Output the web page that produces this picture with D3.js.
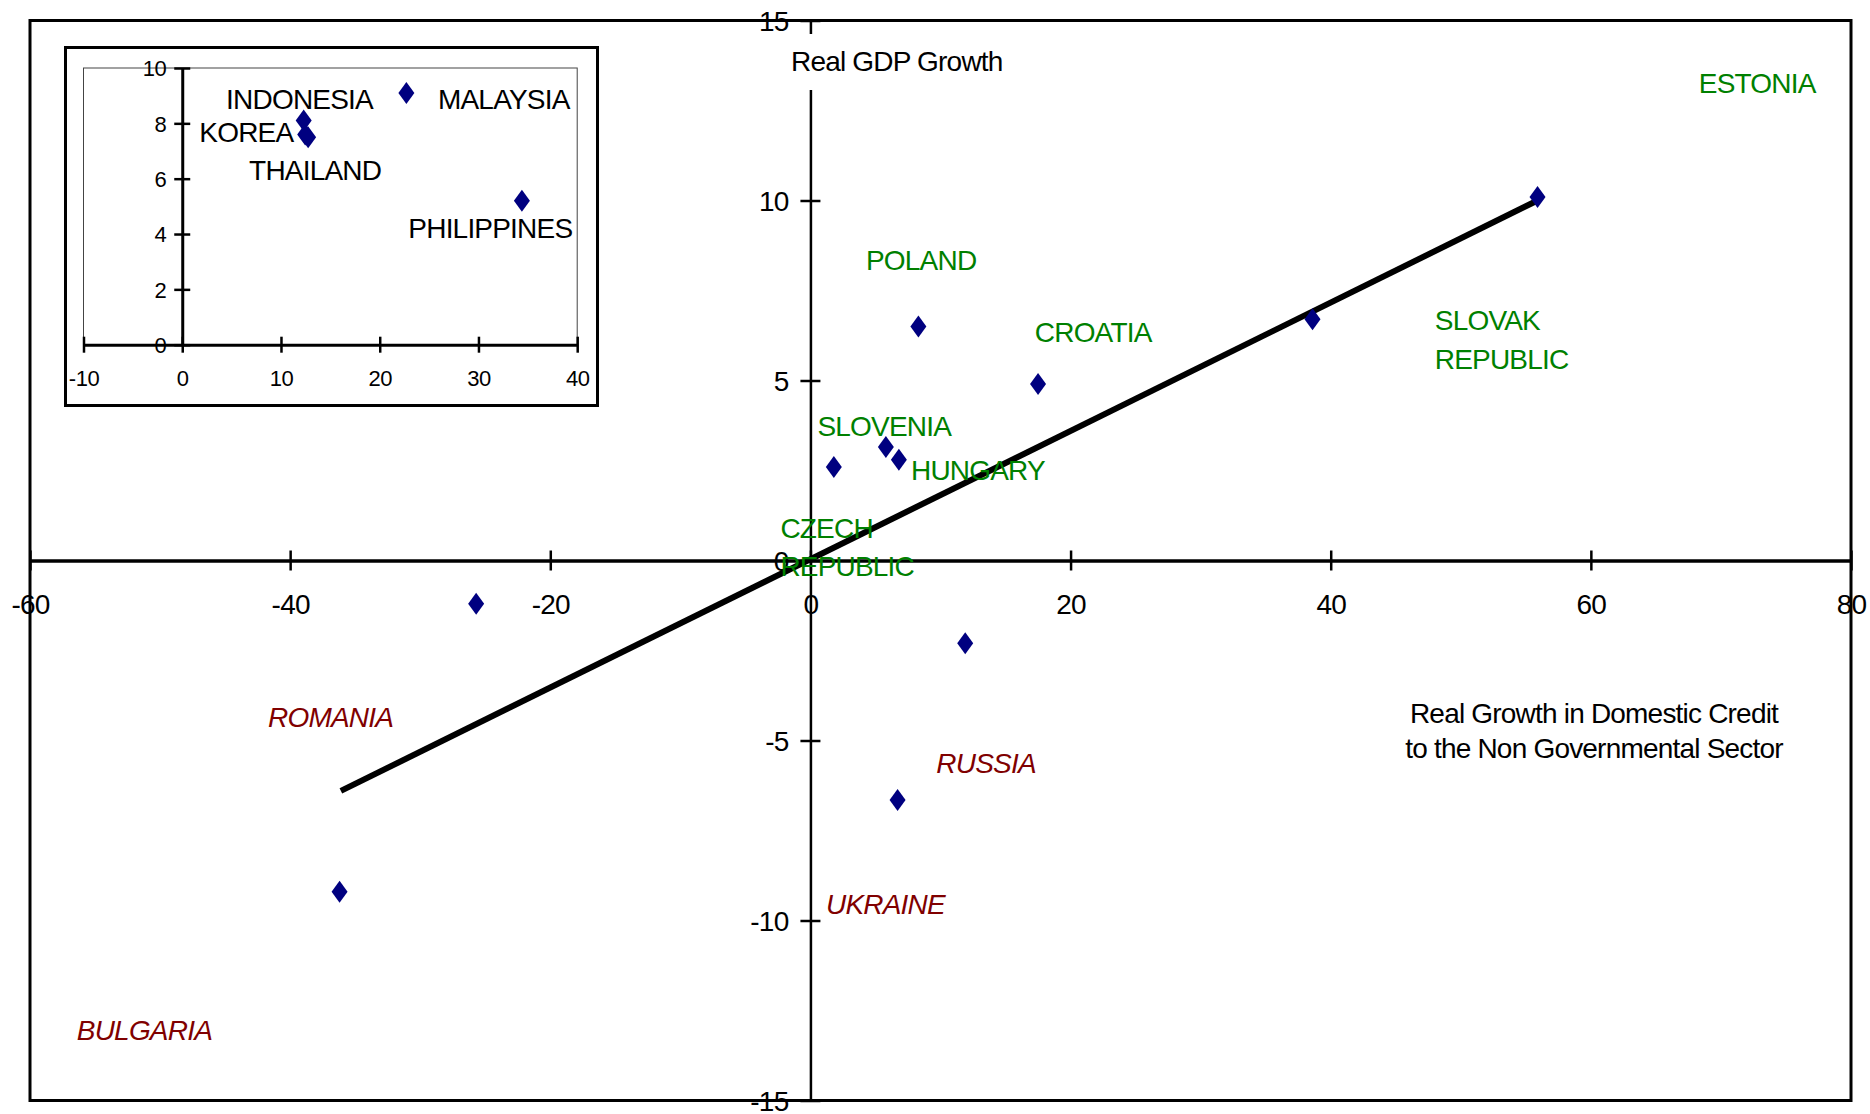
<!DOCTYPE html>
<html>
<head>
<meta charset="utf-8">
<script src="https://cdn.jsdelivr.net/npm/d3@7"></script>
<style>
  html, body { margin: 0; padding: 0; background: #fff; }
  svg { display: block; }
  text { font-family: "Liberation Sans", Arial, sans-serif; }
</style>
</head>
<body>
<svg id="chart" width="1870" height="1114"></svg>
<script>
// ---------- Main chart data ----------
const countries = ["ESTONIA", "SLOVAK REPUBLIC", "CROATIA", "POLAND", "SLOVENIA", "HUNGARY",
                   "CZECH REPUBLIC", "ROMANIA", "RUSSIA", "UKRAINE", "BULGARIA"];
const creditGrowth = [55.9, 38.6, 17.5, 8.3, 5.8, 6.8, 1.8, -25.7, 11.9, 6.7, -36.2];
const gdpGrowth    = [10.1, 6.7, 4.9, 6.5, 3.15, 2.8, 2.6, -1.2, -2.3, -6.65, -9.2];
const contracting  = [false, false, false, false, false, false, false, true, true, true, true];
// label anchor in data units (left edge, baseline of first line)
const labelX = [68.3, 48.0, 17.25, 4.27, 0.54, 7.73, -2.31, -41.7, 9.68, 1.2, -56.4];
const labelY = [12.99, 6.40, 6.08, 8.08, 3.45, 2.23, 0.63, -4.62, -5.90, -9.82, -13.31];

const trendX = [-36.1, 55.9];
const trendY = [-6.4, 10.0];

const xTicks = [-60, -40, -20, 0, 20, 40, 60, 80];
const yTicks = [-15, -10, -5, 0, 5, 10, 15];
const yAxisTitle = "Real GDP Growth";
const xAxisTitle = ["Real Growth in Domestic Credit", "to the Non Governmental Sector"];

// ---------- Inset data ----------
const asiaCountries = ["INDONESIA", "KOREA", "THAILAND", "MALAYSIA", "PHILIPPINES"];
const asiaCredit = [12.3, 12.45, 12.75, 22.7, 34.4];
const asiaGdp    = [8.1, 7.6, 7.5, 9.1, 5.2];
const asiaLabelX = [4.44, 1.73, 6.77, 25.9, 22.9];
const asiaLabelY = [8.51, 7.31, 5.95, 8.51, 3.85];
const insetXTicks = [-10, 0, 10, 20, 30, 40];
const insetYTicks = [0, 2, 4, 6, 8, 10];

// ---------- Drawing ----------
const svg = d3.select("#chart");
svg.append("rect").attr("width", 1870).attr("height", 1114).attr("fill", "#fff");

const x = d3.scaleLinear().domain([-60, 80]).range([30, 1851]);
const y = d3.scaleLinear().domain([-15, 15]).range([1100.5, 20.5]);
const fmt = d => String(d);

const navy = "#000080", green = "#008000", red = "#800000";
const diamond = (hw, hh) => `M0,${-hh}L${hw},0L0,${hh}L${-hw},0Z`;

// frame
svg.append("rect")
  .attr("x", x(-60)).attr("y", y(15))
  .attr("width", x(80) - x(-60)).attr("height", y(-15) - y(15))
  .attr("fill", "none").attr("stroke", "#000").attr("stroke-width", 3);

// x axis
const gx = svg.append("g").attr("transform", `translate(0,${y(0)})`)
  .call(d3.axisBottom(x).tickValues(xTicks).tickFormat(fmt).tickSize(10).tickSizeOuter(0).tickPadding(0));
gx.select(".domain").attr("stroke-width", 3.5).attr("stroke", "#000");
gx.selectAll(".tick line").attr("y1", -10).attr("y2", 10).attr("stroke-width", 2.5).attr("stroke", "#000");
gx.selectAll(".tick text").attr("y", 53).attr("dy", null)
  .attr("font-size", 28).attr("letter-spacing", -0.8).attr("fill", "#000")
  .attr("font-family", "Liberation Sans, Arial, sans-serif");

// y axis
const gy = svg.append("g").attr("transform", `translate(${x(0)},0)`)
  .call(d3.axisLeft(y).tickValues(yTicks).tickFormat(fmt).tickSize(10).tickSizeOuter(0).tickPadding(0));
gy.select(".domain").attr("stroke-width", 2.5).attr("stroke", "#000");
gy.selectAll(".tick line").attr("x1", -10).attr("x2", 10).attr("stroke-width", 2.5).attr("stroke", "#000");
gy.selectAll(".tick text").attr("x", -22).attr("dy", "0.36em")
  .attr("font-size", 28).attr("letter-spacing", -0.8).attr("fill", "#000")
  .attr("font-family", "Liberation Sans, Arial, sans-serif");

// y-axis title with white background
svg.append("rect").attr("x", 785).attr("y", 34).attr("width", 222).attr("height", 56).attr("fill", "#fff");
svg.append("text").attr("x", 791).attr("y", 71)
  .attr("font-size", 28).attr("letter-spacing", -0.8).text(yAxisTitle);

// x-axis title
svg.append("g").selectAll("text").data(xAxisTitle).join("text")
  .attr("x", 1594).attr("y", (d, i) => 723 + i * 35)
  .attr("text-anchor", "middle").attr("font-size", 28).attr("letter-spacing", -0.8)
  .text(d => d);

// trend line
svg.append("path")
  .attr("d", d3.line().x(d => x(d[0])).y(d => y(d[1]))(d3.zip(trendX, trendY)))
  .attr("stroke", "#000").attr("stroke-width", 6).attr("fill", "none");

// points
svg.append("g").selectAll("path").data(d3.range(countries.length)).join("path")
  .attr("transform", i => `translate(${x(creditGrowth[i])},${y(gdpGrowth[i])})`)
  .attr("d", diamond(8, 11)).attr("fill", navy);

// labels
const lab = svg.append("g").selectAll("text").data(d3.range(countries.length)).join("text")
  .attr("x", i => x(labelX[i])).attr("y", i => y(labelY[i]))
  .attr("font-size", 28).attr("letter-spacing", -0.8)
  .attr("fill", i => contracting[i] ? red : green)
  .attr("font-style", i => contracting[i] ? "italic" : "normal");
lab.each(function(i) {
  const words = countries[i].split(" ");
  const t = d3.select(this);
  words.forEach((w, k) => {
    t.append("tspan").attr("x", x(labelX[i])).attr("dy", k === 0 ? 0 : 38.5).text(w);
  });
});

// ---------- Inset ----------
const ix = d3.scaleLinear().domain([-10, 40]).range([83.5, 577.2]);
const iy = d3.scaleLinear().domain([0, 10]).range([344.7, 68]);
const inset = svg.append("g");
inset.append("rect").attr("x", 65.5).attr("y", 47.5).attr("width", 532).attr("height", 358)
  .attr("fill", "#fff").attr("stroke", "#000").attr("stroke-width", 3);
inset.append("rect").attr("x", ix(-10)).attr("y", iy(10))
  .attr("width", ix(40) - ix(-10)).attr("height", iy(0) - iy(10))
  .attr("fill", "none").attr("stroke", "#444").attr("stroke-width", 1);

const igx = inset.append("g").attr("transform", `translate(0,${iy(0)})`)
  .call(d3.axisBottom(ix).tickValues(insetXTicks).tickFormat(fmt).tickSize(8).tickSizeOuter(0).tickPadding(0));
igx.select(".domain").attr("stroke-width", 3).attr("stroke", "#000");
igx.selectAll(".tick line").attr("y1", -8).attr("y2", 8).attr("stroke-width", 2.5).attr("stroke", "#000");
igx.selectAll(".tick text").attr("y", 41).attr("dy", null)
  .attr("font-size", 22).attr("letter-spacing", -0.5).attr("fill", "#000")
  .attr("font-family", "Liberation Sans, Arial, sans-serif");

const igy = inset.append("g").attr("transform", `translate(${ix(0)},0)`)
  .call(d3.axisLeft(iy).tickValues(insetYTicks).tickFormat(fmt).tickSize(8).tickSizeOuter(0).tickPadding(0));
igy.select(".domain").attr("stroke-width", 3).attr("stroke", "#000");
igy.selectAll(".tick line").attr("x1", -8).attr("x2", 8).attr("stroke-width", 2.5).attr("stroke", "#000");
igy.selectAll(".tick text").attr("x", -16).attr("dy", "0.36em")
  .attr("font-size", 22).attr("letter-spacing", -0.5).attr("fill", "#000")
  .attr("font-family", "Liberation Sans, Arial, sans-serif");

inset.append("g").selectAll("path").data(d3.range(asiaCountries.length)).join("path")
  .attr("transform", i => `translate(${ix(asiaCredit[i])},${iy(asiaGdp[i])})`)
  .attr("d", diamond(8, 11)).attr("fill", navy);

inset.append("g").selectAll("text").data(d3.range(asiaCountries.length)).join("text")
  .attr("x", i => ix(asiaLabelX[i])).attr("y", i => iy(asiaLabelY[i]))
  .attr("font-size", 28).attr("letter-spacing", -0.8).attr("fill", "#000")
  .text(i => asiaCountries[i]);
</script>
</body>
</html>
